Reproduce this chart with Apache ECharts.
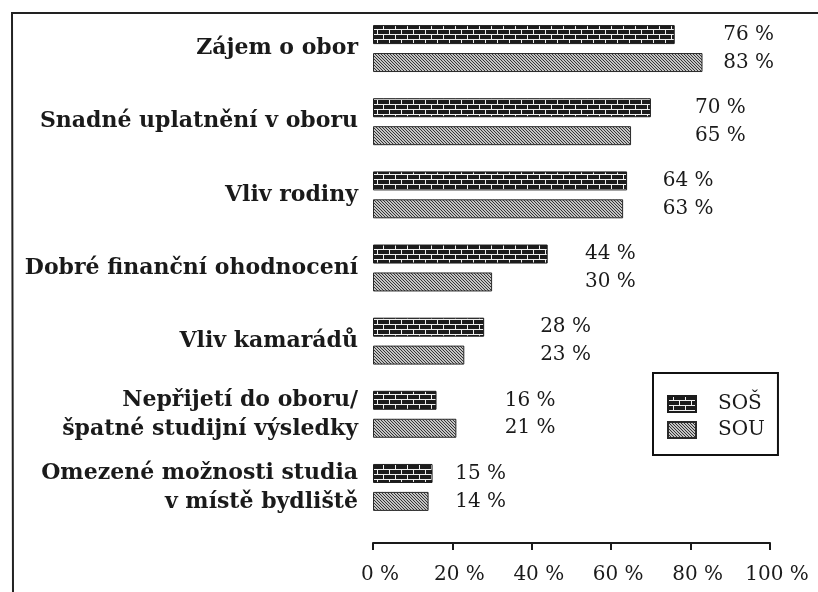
<!DOCTYPE html>
<html>
<head>
<meta charset="utf-8">
<script src="https://cdn.jsdelivr.net/npm/echarts@6/dist/echarts.min.js"></script>
<style>
  html, body { margin: 0; padding: 0; background: #fff; }
  #chart { width: 818px; height: 592px; }
</style>
</head>
<body>
<div id="chart"></div>
<script>
var categories = [
  "Zájem o obor",
  "Snadné uplatnění v oboru",
  "Vliv rodiny",
  "Dobré finanční ohodnocení",
  "Vliv kamarádů",
  "Nepřijetí do oboru/\nšpatné studijní výsledky",
  "Omezené možnosti studia\nv místě bydliště"
];
var sos = [76, 70, 64, 44, 28, 16, 15];
var sou = [83, 65, 63, 30, 23, 21, 14];
var ticks = [0, 20, 40, 60, 80, 100];
// where the value labels of each pair start, in axis units
var labelCol = [88.2, 81.1, 73, 53.4, 42.1, 33.2, 20.7];

var FONT = "DejaVu Serif";
var INK = "#1a1a1a";
var PX = 397 / 100;

function brick() {
  var c = document.createElement("canvas");
  c.width = 12; c.height = 10;
  var g = c.getContext("2d");
  g.fillStyle = "#1c1c1c";
  g.fillRect(0, 0, 12, 10);
  g.fillStyle = "#f0f0f0";
  g.fillRect(0, 4, 12, 1);
  g.fillRect(0, 9, 12, 1);
  g.fillRect(5, 0, 1, 4);
  g.fillRect(11, 5, 1, 4);
  return c;
}

function hatch() {
  var c = document.createElement("canvas");
  c.width = 3; c.height = 3;
  var g = c.getContext("2d");
  g.fillStyle = "#c4c4c4";
  g.fillRect(0, 0, 3, 3);
  g.fillStyle = "#353535";
  for (var i = 0; i < 3; i++) g.fillRect(i, i, 1, 1);
  return c;
}

function items(vals) {
  return vals.map(function (v, i) {
    return { value: v, label: { offset: [(labelCol[i] - v) * PX, 0] } };
  });
}

var chart = echarts.init(document.getElementById("chart"));

var option = {
  animation: false,
  textStyle: { fontFamily: FONT, color: INK },
  graphic: [{
    type: "polyline",
    shape: { points: [[13, 592], [12, 13], [818, 13]] },
    style: { stroke: "#222", lineWidth: 2, fill: null }
  }],
  grid: { left: 373, right: 48, top: 12, bottom: 68 },
  legend: {
    orient: "vertical",
    left: 653, top: 373,
    padding: [21, 13, 15, 14],
    borderColor: "#111", borderWidth: 2,
    icon: "rect",
    itemWidth: 28, itemHeight: 16, itemGap: 6,
    textStyle: { fontFamily: FONT, fontSize: 20, color: INK, padding: [0, 0, 0, 17] },
    data: ["SOŠ", "SOU"]
  },
  xAxis: [{
    type: "value", min: 0, max: 100, interval: 20,
    offset: 19,
    axisLine: { show: true, lineStyle: { color: INK, width: 2 } },
    axisTick: { show: true, length: 7, lineStyle: { color: INK, width: 2 } },
    splitLine: { show: false },
    axisLabel: {
      margin: 22, fontFamily: FONT, fontSize: 20, color: INK,
      padding: [0, 0, 0, 14],
      formatter: function (v) { return ticks.indexOf(v) >= 0 ? v + " %" : ""; }
    }
  }, {
    type: "value", min: 0, max: 100, interval: 20,
    offset: 19,
    axisLine: { show: false },
    axisTick: { show: true, inside: true, length: 5, lineStyle: { color: INK, width: 2 } },
    splitLine: { show: false },
    axisLabel: { show: false }
  }],
  yAxis: {
    type: "category", inverse: true, data: categories,
    axisLine: { show: false }, axisTick: { show: false },
    axisLabel: {
      margin: 15, fontFamily: FONT, fontWeight: "bold", fontSize: 22,
      lineHeight: 29, color: INK
    }
  },
  series: [{
    name: "SOŠ", type: "bar", data: items(sos),
    barWidth: 19, barGap: "47%",
    itemStyle: { color: { image: brick(), repeat: "repeat" }, borderColor: "#1c1c1c", borderWidth: 1 },
    label: { show: true, position: "right", distance: 0, formatter: "{c} %",
      fontFamily: FONT, fontSize: 20, color: INK }
  }, {
    name: "SOU", type: "bar", data: items(sou),
    barWidth: 19,
    itemStyle: { color: { image: hatch(), repeat: "repeat" }, borderColor: "#2a2a2a", borderWidth: 1 },
    label: { show: true, position: "right", distance: 0, formatter: "{c} %",
      fontFamily: FONT, fontSize: 20, color: INK }
  }]
};

chart.setOption(option);
</script>
</body>
</html>
